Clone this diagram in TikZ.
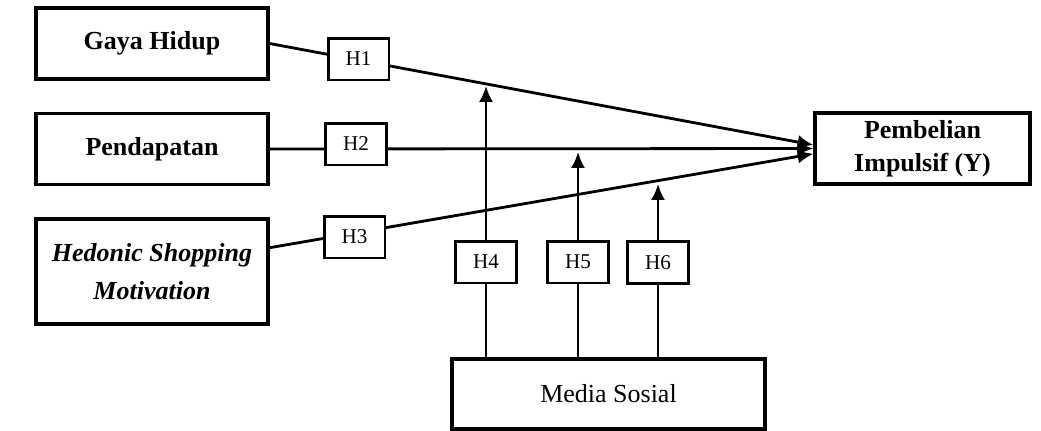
\documentclass[tikz,border=0pt]{standalone}
\usepackage{fontspec}
\setmainfont{Liberation Serif}
\usetikzlibrary{arrows.meta}

\begin{document}
\begin{tikzpicture}[
  x=0.02cm, y=-0.02cm,
  varbox/.style={draw=black, line width=1.8pt, fill=white, align=center, inner sep=2pt,
    font=\fontsize{14.8}{19}\selectfont\bfseries},
  hypbox/.style={draw=black, line width=1.7pt, fill=white, minimum width=1.22cm, minimum height=0.84cm,
    inner sep=1pt, font=\fontsize{12}{14}\selectfont},
  arrowlink/.style={line width=1.6pt, -{Latex[length=9pt,width=8pt]}}
]
  \useasboundingbox (0,0) rectangle (1041,430);

  % variables
  \node[varbox, minimum width=4.64cm, minimum height=1.42cm] (gaya) at (152,43.5) {Gaya Hidup};
  \node[varbox, minimum width=4.64cm, minimum height=1.42cm] (pendapatan) at (152,149) {Pendapatan};
  \node[varbox, minimum width=4.64cm, minimum height=2.1cm, font=\fontsize{14.8}{22}\selectfont\bfseries\itshape] (hedonic) at (152,271.5) {Hedonic Shopping\\Motivation};
  \node[varbox, minimum width=4.3cm, minimum height=1.42cm] (pembelian) at (922.5,148.5) {Pembelian\\Impulsif (Y)};
  \node[varbox, minimum width=6.26cm, minimum height=1.4cm, font=\fontsize{14.8}{19}\selectfont] (media) at (608.5,394) {Media Sosial};

  % free ends
  \coordinate (hedout) at (268,248);
  \coordinate (t4) at (486,86);
  \coordinate (t5) at (578,152);
  \coordinate (t6) at (658,184);

  % direct paths
  \draw[arrowlink] (gaya.east) -- ([yshift=2pt]pembelian.west);
  \draw[arrowlink] (pendapatan.east) -- (pembelian.west);
  \draw[arrowlink] (hedout) -- ([yshift=-3pt]pembelian.west);

  % moderation paths
  \draw[arrowlink] (media.north -| t4) -- (t4);
  \draw[arrowlink] (media.north -| t5) -- (t5);
  \draw[arrowlink] (media.north -| t6) -- (t6);

  % hypotheses
  \node[hypbox] (h1) at (358.5,59) {H1};
  \node[hypbox] (h2) at (356,144) {H2};
  \node[hypbox] (h3) at (354.5,237) {H3};
  \node[hypbox] (h4) at (486,262) {H4};
  \node[hypbox] (h5) at (578,262) {H5};
  \node[hypbox] (h6) at (658,262.5) {H6};
\end{tikzpicture}
\end{document}
